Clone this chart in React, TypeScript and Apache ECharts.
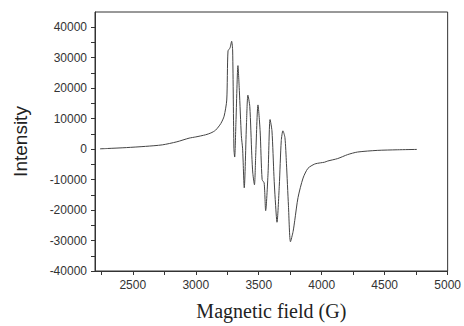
import React, { useEffect, useRef } from "react";
import * as echarts from "echarts";

const fieldG = [
  2240, 2300, 2449, 2600, 2735, 2850, 2947, 3000, 3078, 3120, 3157, 3199, 3225, 3246, 3256, 3272, 3285,
  3293, 3303, 3309, 3319, 3335, 3346, 3362, 3372, 3385, 3403, 3414, 3429, 3445, 3453, 3466, 3476, 3494,
  3511, 3527, 3543, 3555, 3574, 3590, 3605, 3621, 3631, 3645, 3663, 3679, 3692, 3708, 3720, 3736, 3752,
  3773, 3786, 3812, 3852, 3891, 3944, 3990, 4022, 4048, 4127, 4206, 4284, 4441, 4600, 4756,
];
const intensity = [
  100, 200, 500, 900, 1400, 2400, 3600, 4000, 4700, 5300, 6200, 8400, 10800, 16100, 32200, 33200, 35400,
  32200, 100, -2600, 8700, 27400, 19300, 4400, 100, -12700, 8700, 17700, 14000, -2000, -7900, -11700, -2000, 14500,
  6000, -10000, -11100, -20200, -7900, 9700, 6000, -9000, -16500, -24000, -12200, 2800, 6000, 3800, -4700, -18600, -30400,
  -27000, -23400, -15900, -9500, -6300, -4900, -4500, -4300, -3900, -3100, -1800, -960, -420, -220, -100,
];

const xLabelValues = [2500, 3000, 3500, 4000, 4500, 5000];
const xTickValues = [2250, 2500, 2750, 3000, 3250, 3500, 3750, 4000, 4250, 4500, 4750, 5000];
const yLabelValues = [-40000, -30000, -20000, -10000, 0, 10000, 20000, 30000, 40000];

export default function App() {
  const ref = useRef<HTMLDivElement>(null);
  useEffect(() => {
    if (!ref.current) return;
    const chart = echarts.init(ref.current, null, { renderer: "svg" });
    const axisColor = "#333";
    const labelFont = { fontFamily: "Liberation Sans, Arial, sans-serif", fontSize: 12, color: "#333" };
    chart.setOption({
      animation: false,
      backgroundColor: "#fff",
      grid: { left: 95, right: 13, top: 12, bottom: 49, show: true, borderColor: axisColor, borderWidth: 1, backgroundColor: "transparent" },
      xAxis: {
        type: "value",
        min: 2200,
        max: 5000,
        position: "bottom",
        name: "Magnetic field (G)",
        nameLocation: "middle",
        nameGap: 30,
        nameTextStyle: { fontFamily: "Liberation Serif, Times New Roman, serif", fontSize: 20, color: "#222" },
        axisLine: { show: true, onZero: false, lineStyle: { color: axisColor, width: 1 } },
        axisTick: { show: true, inside: false, length: 4, customValues: xTickValues, lineStyle: { color: axisColor } },
        axisLabel: { ...labelFont, margin: 8, customValues: xLabelValues, formatter: (v: number) => String(v) },
        splitLine: { show: false },
      },
      yAxis: {
        type: "value",
        min: -40000,
        max: 45000,
        interval: 5000,
        position: "left",
        name: "Intensity",
        nameLocation: "middle",
        nameGap: 65,
        nameRotate: 90,
        nameTextStyle: { fontFamily: "Liberation Sans, Arial, sans-serif", fontSize: 19, color: "#222" },
        axisLine: { show: true, onZero: false, lineStyle: { color: axisColor, width: 1 } },
        axisTick: { show: true, inside: false, length: 4, lineStyle: { color: axisColor } },
        axisLabel: {
          ...labelFont,
          margin: 8,
          showMaxLabel: false,
          formatter: (v: number) => (yLabelValues.includes(v) ? String(v) : ""),
        },
        splitLine: { show: false },
      },
      series: [
        {
          type: "line",
          data: fieldG.map((g, i) => [g, intensity[i]]),
          showSymbol: false,
          smooth: 0.25,
          lineStyle: { color: "#444", width: 1 },
        },
      ],
    });
    return () => chart.dispose();
  }, []);
  return (
    <div
      ref={ref}
      style={{ position: "fixed", left: 0, top: 0, width: 464, height: 326, background: "#fff" }}
    />
  );
}
